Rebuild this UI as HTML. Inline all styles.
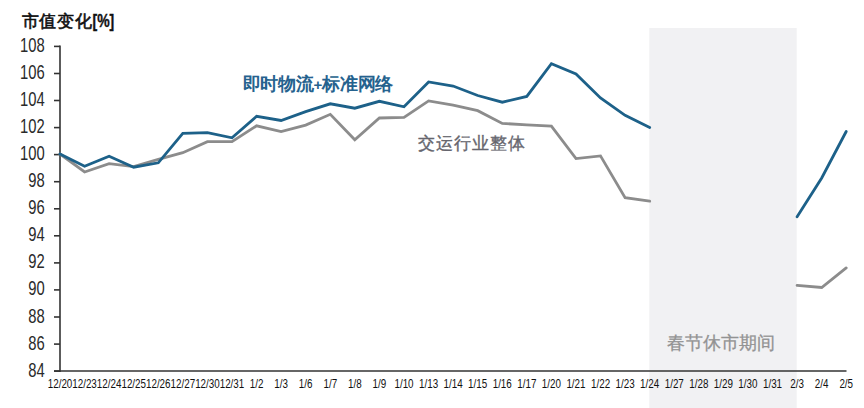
<!DOCTYPE html>
<html><head><meta charset="utf-8"><style>
html,body{margin:0;padding:0;background:#fff;width:864px;height:408px;overflow:hidden}
svg{display:block}
text{font-family:"Liberation Sans",sans-serif}
</style></head><body>
<svg width="864" height="408" viewBox="0 0 864 408">
<rect width="864" height="408" fill="#fff"/>
<text x="21.5" y="27.3" font-size="17" letter-spacing="0.7" fill="#111" stroke="#111" stroke-width="0.6">市值变化</text>
<text transform="scale(0.8,1)" x="115.6" y="27.5" font-size="17.5" font-weight="bold" fill="#111" stroke="#111" stroke-width="0.4">[%]</text>
<rect x="649.3" y="28" width="147.4" height="380" fill="#f1f1f3"/>
<g stroke="#333" stroke-width="1.6">
<line x1="60" y1="45.5" x2="60" y2="372"/>
<line x1="54" y1="371" x2="846.5" y2="371"/>
<line x1="54" y1="46.4" x2="60" y2="46.4"/><line x1="54" y1="73.5" x2="60" y2="73.5"/><line x1="54" y1="100.5" x2="60" y2="100.5"/><line x1="54" y1="127.6" x2="60" y2="127.6"/><line x1="54" y1="154.6" x2="60" y2="154.6"/><line x1="54" y1="181.7" x2="60" y2="181.7"/><line x1="54" y1="208.8" x2="60" y2="208.8"/><line x1="54" y1="235.8" x2="60" y2="235.8"/><line x1="54" y1="262.9" x2="60" y2="262.9"/><line x1="54" y1="289.9" x2="60" y2="289.9"/><line x1="54" y1="317.0" x2="60" y2="317.0"/><line x1="54" y1="344.1" x2="60" y2="344.1"/><line x1="54" y1="371.1" x2="60" y2="371.1"/>
</g>
<path d="M60.0,154.0 L84.6,172.0 L109.1,163.7 L133.7,166.7 L158.3,159.4 L182.8,152.7 L207.4,141.6 L232.0,141.6 L256.6,125.8 L281.1,131.6 L305.7,125.1 L330.3,114.3 L354.8,139.7 L379.4,118.0 L404.0,117.3 L428.6,100.9 L453.1,105.1 L477.7,110.7 L502.3,123.4 L526.8,124.8 L551.4,126.1 L576.0,158.6 L600.5,155.9 L625.1,197.7 L649.7,201.2 M797.1,285.4 L821.7,287.5 L846.2,267.9" fill="none" stroke="#8c8c8c" stroke-width="2.8" stroke-linejoin="miter" stroke-linecap="round"/>
<path d="M60.0,154.0 L84.6,166.3 L109.1,156.3 L133.7,167.2 L158.3,162.8 L182.8,133.4 L207.4,132.7 L232.0,137.8 L256.6,116.3 L281.1,120.5 L305.7,111.7 L330.3,103.8 L354.8,108.2 L379.4,101.3 L404.0,106.8 L428.6,81.9 L453.1,86.0 L477.7,95.5 L502.3,102.2 L526.8,96.4 L551.4,63.6 L576.0,73.9 L600.5,98.0 L625.1,115.3 L649.7,127.5 M797.1,216.8 L821.7,178.0 L846.2,131.5" fill="none" stroke="#1d6189" stroke-width="2.8" stroke-linejoin="miter" stroke-linecap="round"/>
<g transform="scale(0.705,1)" font-size="21" fill="#2a2a2a" text-anchor="end">
<text x="63.3" y="52.0">108</text><text x="63.3" y="79.1">106</text><text x="63.3" y="106.1">104</text><text x="63.3" y="133.2">102</text><text x="63.3" y="160.2">100</text><text x="63.3" y="187.3">98</text><text x="63.3" y="214.4">96</text><text x="63.3" y="241.4">94</text><text x="63.3" y="268.5">92</text><text x="63.3" y="295.5">90</text><text x="63.3" y="322.6">88</text><text x="63.3" y="349.7">86</text><text x="63.3" y="376.7">84</text>
</g>
<g transform="scale(0.82,1)" font-size="12" fill="#111" text-anchor="middle">
<text x="73.2" y="388">12/20</text><text x="103.1" y="388">12/23</text><text x="133.1" y="388">12/24</text><text x="163.1" y="388">12/25</text><text x="193.0" y="388">12/26</text><text x="223.0" y="388">12/27</text><text x="253.0" y="388">12/30</text><text x="282.9" y="388">12/31</text><text x="312.9" y="388">1/2</text><text x="342.8" y="388">1/3</text><text x="372.8" y="388">1/6</text><text x="402.8" y="388">1/7</text><text x="432.7" y="388">1/8</text><text x="462.7" y="388">1/9</text><text x="492.7" y="388">1/10</text><text x="522.6" y="388">1/13</text><text x="552.6" y="388">1/14</text><text x="582.5" y="388">1/15</text><text x="612.5" y="388">1/16</text><text x="642.5" y="388">1/17</text><text x="672.4" y="388">1/20</text><text x="702.4" y="388">1/21</text><text x="732.4" y="388">1/22</text><text x="762.3" y="388">1/23</text><text x="792.3" y="388">1/24</text><text x="822.3" y="388">1/27</text><text x="852.2" y="388">1/28</text><text x="882.2" y="388">1/29</text><text x="912.1" y="388">1/30</text><text x="942.1" y="388">1/31</text><text x="972.1" y="388">2/3</text><text x="1002.0" y="388">2/4</text><text x="1032.0" y="388">2/5</text>
</g>
<text x="242.5" y="90" font-size="18" letter-spacing="-0.25" font-weight="bold" fill="#25628e">即时物流<tspan font-size="15">+</tspan>标准网络</text>
<text x="417.8" y="149.3" font-size="17" letter-spacing="1" fill="#66666e" stroke="#66666e" stroke-width="0.35">交运行业整体</text>
<text x="667.3" y="349" font-size="18" fill="#939393" stroke="#939393" stroke-width="0.3">春节休市期间</text>
</svg>
</body></html>
